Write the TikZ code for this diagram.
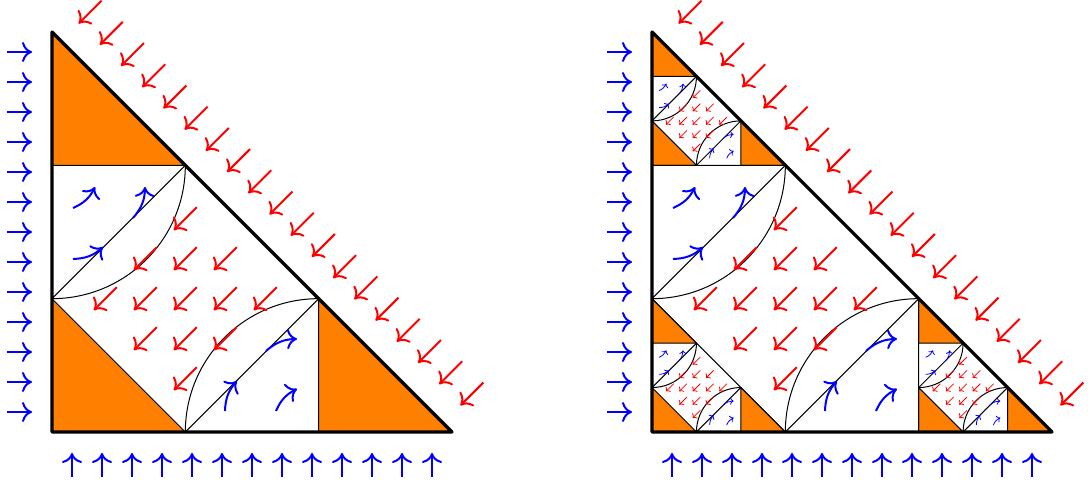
\documentclass[tikz,border=0pt]{standalone}
\usetikzlibrary{arrows.meta}
\tikzset{
  thinline/.style={line width=0.5pt, black},
  orangetri/.style={fill=orange, draw=black, line width=0.45pt, line join=round},
  bound/.style={line width=1.6pt, black, line join=round, line cap=round},
  bigarr/.style={line width=1pt, -{Computer Modern Rightarrow[length=5pt,width=10pt]}},
  smallarr/.style={line width=0.4pt, -{Computer Modern Rightarrow[length=1.8pt,width=3.6pt]}},
}
% orange triangle: corner (#1,#2), leg #3
\newcommand\otri[3]{\filldraw[orangetri] (#1,#2) -- ++(0,#3) -- ++(#3,-#3) -- cycle;}
% interior of a subdivided triangle: corner (#1,#2), leg #3, arrow size #4 (big/small)
\newcommand\interior[4]{%
  \draw[thinline] (#1,{#2+#3/3}) -- ({#1+#3/3},{#2+2*#3/3});
  \draw[thinline] ({#1+#3/3},#2) -- ({#1+2*#3/3},{#2+#3/3});
  \draw[thinline] (#1,{#2+#3/3}) arc[start angle=-90,end angle=0,radius={#3/3}];
  \draw[thinline] ({#1+#3/3},#2) arc[start angle=180,end angle=90,radius={#3/3}];
  \foreach \ax/\ay/\bx/\by in {0.0525/0.56/0.1075/0.6125, 0.0525/0.4325/0.1275/0.4625, 0.2025/0.535/0.2325/0.6125}{
    \draw[blue,#4arr] ({#1+\ax*#3},{#2+\ay*#3}) to[bend right=20] ({#1+\bx*#3},{#2+\by*#3});
    \draw[blue,#4arr] ({#1+\ay*#3},{#2+\ax*#3}) to[bend left=20] ({#1+\by*#3},{#2+\bx*#3});
  }
  \foreach \i/\j in {0/2, -1/1, 0/1, 1/1, -2/0, -1/0, 0/0, 1/0, 2/0, -1/-1, 0/-1, 1/-1, 0/-2}{
    \draw[red,#4arr] ({#1+(1/3+\i/10+0.02875)*#3},{#2+(1/3+\j/10+0.02875)*#3}) -- ({#1+(1/3+\i/10-0.02875)*#3},{#2+(1/3+\j/10-0.02875)*#3});
  }
}
% boundary arrows for the big triangle with corner (#1,#2), leg 400
\newcommand\boundarrows[2]{%
  \foreach \k in {0,...,12}{
    \draw[blue,bigarr] ({#1-45},{#2+20+30*\k}) -- ({#1-20},{#2+20+30*\k});
    \draw[blue,bigarr] ({#1+20+30*\k},{#2-45}) -- ({#1+20+30*\k},{#2-21});
  }
  \foreach \k in {0,...,18}{
    \draw[red,bigarr] ({#1+38.08+21.213*\k+11.5},{#2+419.9-21.213*\k+11.5}) -- ({#1+38.08+21.213*\k-11.5},{#2+419.9-21.213*\k-11.5});
  }
}
% subdivided triangle of depth 1 (small): corner (#1,#2), leg #3
\newcommand\subtri[3]{%
  \otri{#1}{{#2+2*#3/3}}{{#3/3}}
  \otri{#1}{#2}{{#3/3}}
  \otri{{#1+2*#3/3}}{#2}{{#3/3}}
  \draw[thinline] (#1,#2) -- ++(0,#3) -- ++(#3,-#3) -- cycle;
  \interior{#1}{#2}{#3}{small}
}
\begin{document}
\begin{tikzpicture}[x=0.5pt,y=0.5pt]
\useasboundingbox (0,0) rectangle (1088,481);
% ---------- left figure ----------
\otri{52}{315.6667}{133.3333}
\otri{52}{49}{133.3333}
\otri{318.6667}{49}{133.3333}
\interior{52}{49}{400}{big}
\boundarrows{52}{49}
\draw[bound] (52,449) -- (52,49) -- (452,49) -- cycle;
% ---------- right figure ----------
\subtri{652}{315.6667}{133.3333}
\subtri{652}{49}{133.3333}
\subtri{918.6667}{49}{133.3333}
\interior{652}{49}{400}{big}
\boundarrows{652}{49}
\draw[bound] (652,449) -- (652,49) -- (1052,49) -- cycle;
\end{tikzpicture}
\end{document}
